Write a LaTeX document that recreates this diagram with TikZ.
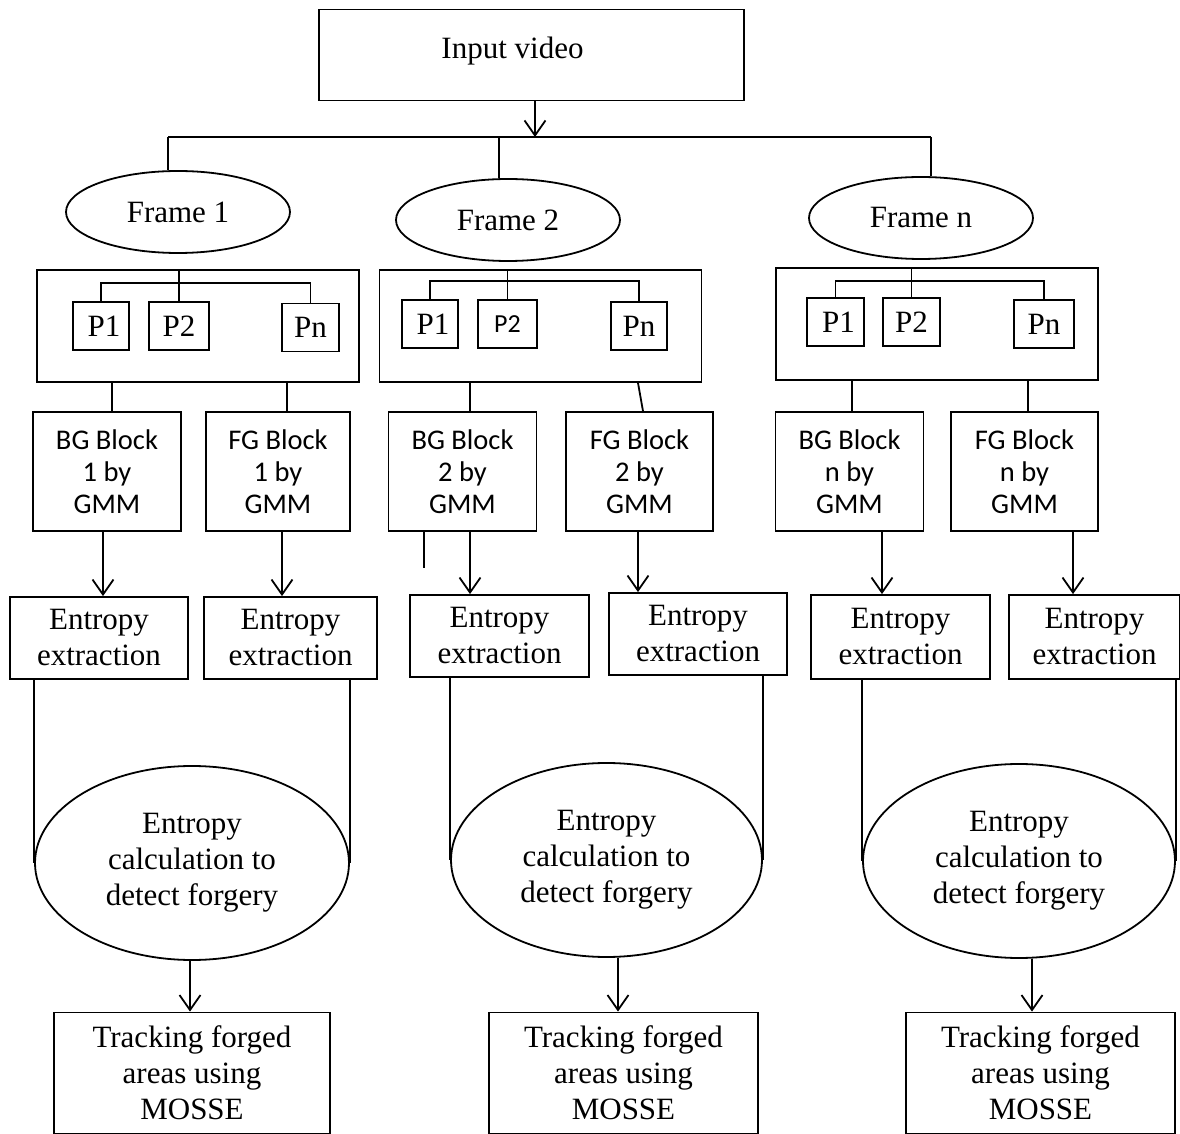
\documentclass[tikz,border=0pt]{standalone}
\usepackage{fontspec}
\setmainfont{Liberation Serif}
\newfontfamily\calibri{Carlito}
\usetikzlibrary{shapes.geometric,arrows.meta}
\begin{document}
\begin{tikzpicture}[x=0.5pt,y=-0.5pt,line width=0.9pt,blk/.style={draw,inner sep=0pt,align=center,font=\fontsize{15.5}{18}\selectfont},oval/.style={blk,ellipse},grp/.style={draw,inner sep=0pt,minimum width=161pt,minimum height=56pt},pbox/.style={blk,minimum width=28pt,minimum height=24pt},gmm/.style={blk,font=\calibri\fontsize{14.25}{16}\selectfont,minimum width=74pt,minimum height=59.5pt},ext/.style={blk,minimum width=89pt,minimum height=41pt},trk/.style={blk,minimum width=134.5pt,minimum height=60.5pt},frm/.style={oval,minimum width=112pt,minimum height=41pt},det/.style={oval,minimum width=156pt,minimum height=97pt},flow/.style={-{Straight Barb[length=7.5pt,width=10.5pt]}}]
\useasboundingbox (0,0) rectangle (1180,1134);

\node[blk,minimum width=212.5pt,minimum height=45.5pt,text depth=7pt] (input) at (531.5,55) {Input video\hspace*{19pt}};

\node[frm] (frame1) at (178,212) {Frame 1};
\node[frm] (frame2) at (508,220) {Frame 2};
\node[frm] (frameN) at (921,218) {Frame n};

\coordinate (hub) at (535,137);
\coordinate (busL) at (168,137);
\coordinate (busM) at (499,137);
\coordinate (busR) at (931,137);
\draw[flow] (input.south -| hub) -- (hub);
\draw (busL) -- (busR);
\draw (busL) -- (busL |- frame1.north);
\draw (busM) -- (busM |- frame2.north);
\draw (busR) -- (busR |- frameN.north);

\node[grp] (grp1) at (198,326) {};
\node[pbox] (p1a) at (101,326) {\hspace*{3pt}P1};
\node[pbox,minimum width=30pt] (p1b) at (179,326) {P2};
\node[pbox,minimum width=28.5pt] (p1n) at (310.5,327.5) {Pn};
\draw (grp1.north -| p1b) -- (p1b.north);
\draw (p1a.north) -- ++(0,-18) -| (p1n.north);

\node[grp] (grp2) at (540.5,326) {};
\node[pbox] (p2a) at (430,324) {\hspace*{3pt}P1};
\node[pbox,minimum width=29.5pt,font=\calibri\fontsize{13}{15}\selectfont] (p2b) at (507.5,324) {P2};
\node[pbox] (p2n) at (639,326) {Pn};
\draw (grp2.north -| p2b) -- (p2b.north);
\draw (p2a.north) -- ++(0,-18) -| (p2n.north);

\node[grp] (grp3) at (937,324) {};
\node[pbox,minimum width=28.5pt] (p3a) at (835.5,322) {\hspace*{3pt}P1};
\node[pbox,minimum width=28.5pt] (p3b) at (911.5,322) {P2};
\node[pbox,minimum width=30pt] (p3n) at (1044,324) {Pn};
\draw (grp3.north -| p3b) -- (p3b.north);
\draw (p3a.north) -- ++(0,-16) -| (p3n.north);

\node[gmm] (bg1) at (107,471.5) {BG Block\\1 by\\GMM};
\node[gmm,minimum width=72pt] (fg1) at (278,471.5) {FG Block\\1 by\\GMM};
\node[gmm] (bg2) at (462.5,471.5) {BG Block\\2 by\\GMM};
\node[gmm,minimum width=73.5pt] (fg2) at (639.5,471.5) {FG Block\\2 by\\GMM};
\node[gmm] (bgN) at (849.5,471.5) {BG Block\\n by\\GMM};
\node[gmm,minimum width=73.5pt] (fgN) at (1024.5,471.5) {FG Block\\n by\\GMM};

\draw (grp1.south -| 112,0) -- (bg1.north -| 112,0);
\draw (grp1.south -| 287,0) -- (fg1.north -| 287,0);
\draw (grp2.south -| 470,0) -- (bg2.north -| 470,0);
\draw (grp2.south -| 638,0) -- (fg2.north -| 643,0);
\draw (grp3.south -| 852,0) -- (bgN.north -| 852,0);
\draw (grp3.south -| 1028,0) -- (fgN.north -| 1028,0);
\draw (bg2.south -| 424,0) -- (424,568);

\node[ext] (ext1) at (99,638) {Entropy\\extraction};
\node[ext,minimum width=86.5pt] (ext2) at (290.5,638) {Entropy\\extraction};
\node[ext,minimum width=89.5pt] (ext3) at (499.5,636) {Entropy\\extraction};
\node[ext] (ext4) at (698,634) {Entropy\\extraction};
\node[ext,minimum width=89.5pt,minimum height=42pt] (ext5) at (900.5,637) {Entropy\\extraction};
\node[ext,minimum width=85.5pt,minimum height=42pt] (ext6) at (1094.5,637) {Entropy\\extraction};

\draw[flow] (bg1.south -| 103,0) -- (ext1.north -| 103,0);
\draw[flow] (fg1.south -| 282,0) -- (ext2.north -| 282,0);
\draw[flow] (bg2.south -| 470,0) -- (ext3.north -| 470,0);
\draw[flow] (fg2.south -| 638,0) -- (ext4.north -| 638,0);
\draw[flow] (bgN.south -| 882,0) -- (ext5.north -| 882,0);
\draw[flow] (fgN.south -| 1073,0) -- (ext6.north -| 1073,0);

\node[det,minimum width=157pt] (det1) at (192,863) {Entropy\\calculation to\\detect forgery};
\node[det,minimum width=155.5pt] (det2) at (606.5,860) {Entropy\\calculation to\\detect forgery};
\node[det] (det3) at (1019,861) {Entropy\\calculation to\\detect forgery};

\draw (ext1.south -| det1.west) -- (det1.west);
\draw (ext2.south -| det1.east) -- (det1.east);
\draw (ext3.south -| det2.west) -- (det2.west);
\draw (ext4.south -| det2.east) -- (det2.east);
\draw (ext5.south -| det3.west) -- (det3.west);
\draw (ext6.south -| det3.east) -- (det3.east);

\node[trk,minimum width=138pt] (trk1) at (192,1073) {Tracking forged\\areas using\\MOSSE};
\node[trk] (trk2) at (623.5,1073) {Tracking forged\\areas using\\MOSSE};
\node[trk] (trk3) at (1040.5,1073) {Tracking forged\\areas using\\MOSSE};

\draw[flow] (det1.south -| 190,0) -- (trk1.north -| 190,0);
\draw[flow] (det2.south -| 618,0) -- (trk2.north -| 618,0);
\draw[flow] (det3.south -| 1032,0) -- (trk3.north -| 1032,0);
\end{tikzpicture}
\end{document}
